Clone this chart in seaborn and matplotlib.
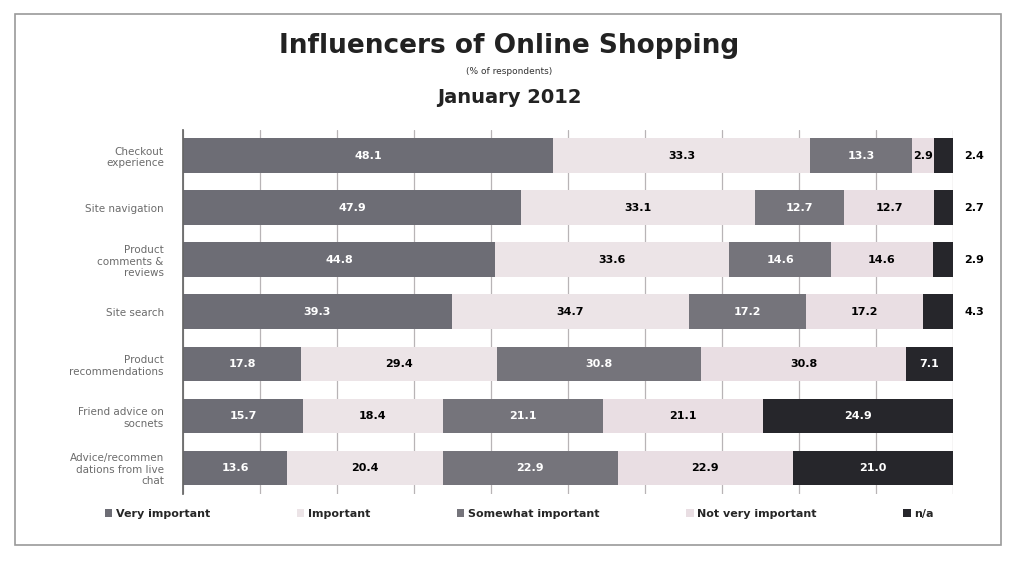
import seaborn as sns
from matplotlib import pyplot as plt
from matplotlib.patches import Rectangle, Patch
import pandas as pd
import numpy as np

categories = [
    "Checkout\nexperience",
    "Site navigation",
    "Product\ncomments &\nreviews",
    "Site search",
    "Product\nrecommendations",
    "Friend advice on\nsocnets",
    "Advice/recommen\ndations from live\nchat",
]
series = ["Very important", "Important", "Somewhat important", "Not very important", "n/a"]
very_important = [48.1, 47.9, 44.8, 39.3, 17.8, 15.7, 13.6]
important = [33.3, 33.1, 33.6, 34.7, 29.4, 18.4, 20.4]
somewhat_important = [13.3, 12.7, 14.6, 17.2, 30.8, 21.1, 22.9]
not_very_important = [2.9, 12.7, 14.6, 17.2, 30.8, 21.1, 22.9]
n_a = [2.4, 2.7, 2.9, 4.3, 7.1, 24.9, 21.0]

colors = ["#6d6d75", "#ece4e7", "#75747b", "#e9dee3", "#26262b"]
label_colors = ["white", "black", "white", "black", "white"]

values = pd.DataFrame(
    dict(zip(series, [very_important, important, somewhat_important, not_very_important, n_a])),
    index=categories,
)
# 100% stacked: share of each row total
share = values.div(values.sum(axis=1), axis=0) * 100
cum = share.cumsum(axis=1)

sns.set_theme(style="white")
plt.rcParams["font.family"] = ["DejaVu Sans"]
fig, ax = plt.subplots(figsize=(10.18, 5.62), dpi=100)
fig.subplots_adjust(left=0.18, right=0.936, top=0.769, bottom=0.121)

# draw cumulative bars from the end backwards so each segment shows
for name, color in reversed(list(zip(series, colors))):
    df = pd.DataFrame({"cat": categories, "end": cum[name].values})
    sns.barplot(data=df, x="end", y="cat", color=color, orient="h",
                width=0.67, saturation=1, ax=ax, edgecolor="none")

# value labels
for j, name in enumerate(series):
    starts = cum[name] - share[name]
    for i, cat in enumerate(categories):
        v = values.loc[cat, name]
        w = share.loc[cat, name]
        if name == "n/a" and w < 5:
            ax.text(101.5, i, f"{v:.1f}", ha="left", va="center", fontsize=8,
                    fontweight="bold", color="black", clip_on=False)
        else:
            ax.text(starts[cat] + w / 2, i, f"{v:.1f}", ha="center", va="center",
                    fontsize=8, fontweight="bold", color=label_colors[j])

ax.set_xlim(0, 100)
ax.set_xticks(np.arange(0, 101, 10))
ax.set_xticklabels([])
ax.tick_params(axis="x", length=0)
ax.grid(axis="x", color="#b8b4b6", linewidth=0.9)
ax.set_axisbelow(True)
ax.set_xlabel("")
ax.set_ylabel("")
ax.tick_params(axis="y", labelsize=7.5, colors="#6b6b6b", length=0, pad=14)
for s in ["top", "right", "bottom"]:
    ax.spines[s].set_visible(False)
ax.spines["left"].set_color("#666666")

fig.text(0.5, 0.918, "Influencers of Online Shopping", ha="center", va="center",
         fontsize=19, fontweight="bold", color="#222222")
fig.text(0.5, 0.872, "(% of respondents)", ha="center", va="center", fontsize=6.5, color="#333333")
fig.text(0.5, 0.826, "January 2012", ha="center", va="center", fontsize=14,
         fontweight="bold", color="#222222")

handles = [Patch(facecolor=c, edgecolor="none") for c in colors]
fig.legend(handles, series, loc="center", bbox_to_anchor=(0.51, 0.085), ncol=5,
           frameon=False, prop={"size": 8, "weight": "bold"}, handlelength=0.7,
           handleheight=0.7, handletextpad=0.3, columnspacing=7.8)

fig.patches.append(Rectangle((0.015, 0.03), 0.968, 0.945, transform=fig.transFigure,
                             fill=False, edgecolor="#9a9a9a", linewidth=1.2))

plt.savefig("out.png", dpi=100)
